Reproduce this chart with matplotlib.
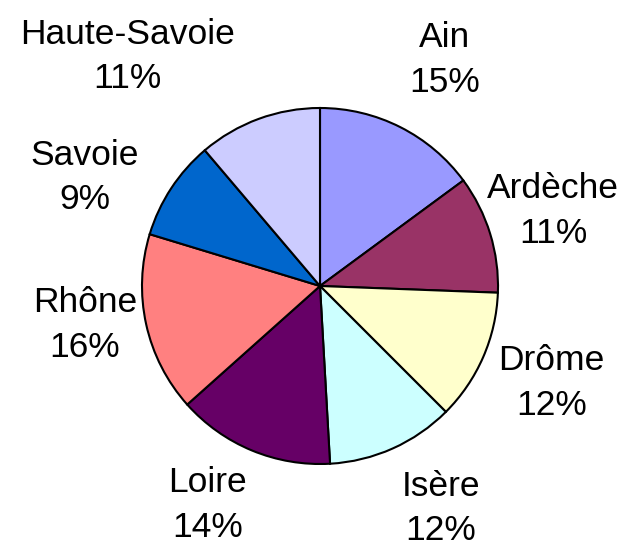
import matplotlib.pyplot as plt

# Share of each département (clockwise from the top)
departements = ["Ain", "Ardèche", "Drôme", "Isère", "Loire", "Rhône", "Savoie", "Haute-Savoie"]
shares = [14.9, 10.7, 11.9, 11.6, 14.3, 16.3, 9.1, 11.2]
colors = ["#9999FF", "#993366", "#FFFFCC", "#CCFFFF", "#660066", "#FF8080", "#0066CC", "#CCCCFF"]

# label centres, in pie radii from the centre
label_xy = [(0.70, 1.27), (1.31, 0.42), (1.30, -0.545), (0.68, -1.25),
            (-0.63, -1.23), (-1.32, -0.22), (-1.32, 0.61), (-1.08, 1.29)]

plt.rcParams["font.family"] = ["Liberation Sans", "DejaVu Sans"]

fig = plt.figure(figsize=(6.43, 5.49), dpi=100)
ax = fig.add_axes([0, 0, 1, 1])

r_px = 178.0
cx, cy = 320.0, 549 - 286.0
ax.pie(shares, colors=colors, startangle=90, counterclock=False,
       radius=1.0, wedgeprops=dict(edgecolor="black", linewidth=1.5))

total = sum(shares)
for name, v, (x, y) in zip(departements, shares, label_xy):
    ax.text(x, y, f"{name}\n{round(100 * v / total):.0f}%", ha="center", va="center",
            fontsize=25.5, linespacing=1.45, color="black")

ax.set_xlim(-cx / r_px, (643 - cx) / r_px)
ax.set_ylim(-cy / r_px, (549 - cy) / r_px)
ax.set_aspect("auto")
ax.axis("off")

fig.savefig("out.png", dpi=100, facecolor="white")
